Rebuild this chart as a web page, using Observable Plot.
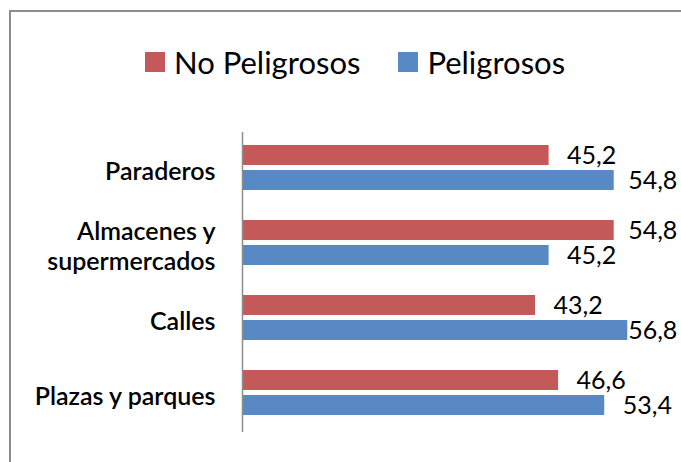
<!DOCTYPE html>
<html>
<head>
<meta charset="utf-8">
<script src="https://cdn.jsdelivr.net/npm/d3@7"></script>
<script src="https://cdn.jsdelivr.net/npm/@observablehq/plot@0.6"></script>
<style>
  html, body { margin: 0; padding: 0; background: #fff; }
  #wrap { position: relative; width: 681px; height: 462px; overflow: hidden; font-family: Lato, "Open Sans", sans-serif; }
  #frame { position: absolute; left: 9px; top: 10px; width: 700px; height: 500px; border-left: 2.5px solid #8c8c8c; border-top: 2.5px solid #8c8c8c; box-sizing: border-box; }
  #legend { position: absolute; left: 145px; top: 43px; display: flex; align-items: center; font-size: 31px; color: #000; }
  #legend .item { display: flex; align-items: center; }
  #legend .sw { width: 20px; height: 20px; margin-right: 9px; }
  #chart { position: absolute; left: 0; top: 0; }
  #chart g[aria-label^="fy-axis"] text { font-weight: 600; }
</style>
</head>
<body>
<div id="wrap">
  <div id="frame"></div>
  <div id="legend"></div>
  <div id="chart"></div>
</div>
<script>
const categories = ["Paraderos", "Almacenes y\nsupermercados", "Calles", "Plazas y parques"];
const series = ["No Peligrosos", "Peligrosos"];
const noPeligrosos = [45.2, 54.8, 43.2, 46.6];
const peligrosos = [54.8, 45.2, 56.8, 53.4];
const colors = ["#C4595A", "#5889C4"];

const data = [];
categories.forEach((c, i) => {
  data.push({category: c, series: series[0], value: noPeligrosos[i]});
  data.push({category: c, series: series[1], value: peligrosos[i]});
});

const fmt = v => v.toFixed(1).replace(".", ",");

// legend
const legend = document.getElementById("legend");
series.forEach((s, i) => {
  const it = document.createElement("div");
  it.className = "item";
  if (i > 0) it.style.marginLeft = "38px";
  const sw = document.createElement("div");
  sw.className = "sw";
  sw.style.background = colors[i];
  const t = document.createElement("span");
  t.textContent = s;
  it.appendChild(sw);
  it.appendChild(t);
  legend.appendChild(it);
});

const hasAxisMarks = typeof Plot.axisFy === "function";
const fyAxis = hasAxisMarks
  ? [Plot.axisFy({anchor: "left", label: null, tickSize: 0, tickPadding: 27, fontSize: 25, lineHeight: 1.2, fill: "#000"})]
  : [];

const chart = Plot.plot({
  width: 681,
  height: 462,
  marginLeft: 242,
  marginRight: 32,
  marginTop: 132,
  marginBottom: 30,
  style: {fontFamily: "Lato, 'Open Sans', sans-serif", fontSize: "25px", color: "#000", background: "transparent"},
  x: {domain: [0, 60], axis: null},
  y: {domain: series, axis: null, paddingInner: 0.2, paddingOuter: 0.6, align: 0.43},
  fy: hasAxisMarks
    ? {domain: categories, padding: 0}
    : {domain: categories, padding: 0, label: null, tickSize: 0, tickPadding: 27},
  color: {domain: series, range: colors},
  marks: [
    ...fyAxis,
    Plot.barX(data, {x: "value", y: "series", fy: "category", fill: "series"}),
    Plot.ruleX([0], {stroke: "#8c8c8c", strokeWidth: 1.5}),
    Plot.text(data, {
      x: d => Math.min(d.value, 54.2),
      y: "series",
      fy: "category",
      text: d => fmt(d.value),
      textAnchor: "start",
      dx: 18,
      fontSize: 25,
      fill: "#000"
    })
  ]
});
document.getElementById("chart").appendChild(chart);
</script>
</body>
</html>
